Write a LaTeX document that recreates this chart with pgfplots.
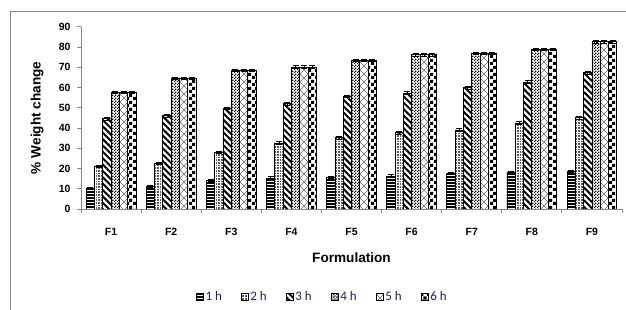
\documentclass[border=0pt]{standalone}
\usepackage{fontspec}
\setmainfont{Liberation Sans}
\newfontfamily\legfont{Carlito}
\usepackage{pgfplots}
\usepackage{pgfplotstable}
\pgfplotsset{compat=1.18}
\usetikzlibrary{patterns,patterns.meta}
\definecolor{axgray}{RGB}{134,134,134}
\definecolor{legtext}{RGB}{30,30,80}

\pgfdeclarepatternformonly{hl}{\pgfpoint{-1pt}{-1pt}}{\pgfpoint{4pt}{4pt}}{\pgfpoint{3pt}{3pt}}%
{\pgfpathrectangle{\pgfpoint{-1pt}{0pt}}{\pgfpoint{5pt}{1.5pt}}\pgfusepath{fill}}
\pgfdeclarepatternformonly{fd}{\pgfpoint{-0.5pt}{-0.5pt}}{\pgfpoint{2pt}{2pt}}{\pgfpoint{1.6pt}{1.6pt}}%
{\pgfpathrectangle{\pgfpointorigin}{\pgfpoint{0.9pt}{0.9pt}}\pgfusepath{fill}}
\pgfdeclarepatternformonly{fc}{\pgfpointorigin}{\pgfpoint{3pt}{3pt}}{\pgfpoint{3pt}{3pt}}%
{\pgfpathrectangle{\pgfpointorigin}{\pgfpoint{1.5pt}{1.5pt}}\pgfpathrectangle{\pgfpoint{1.5pt}{1.5pt}}{\pgfpoint{1.5pt}{1.5pt}}\pgfusepath{fill}}
\pgfdeclarepatternformonly{dcross}{\pgfpoint{-0.5pt}{-0.5pt}}{\pgfpoint{8.5pt}{8.5pt}}{\pgfpoint{8pt}{8pt}}%
{\pgfsetlinewidth{0.5pt}\pgfpathmoveto{\pgfpointorigin}\pgfpathlineto{\pgfpoint{8pt}{8pt}}\pgfpathmoveto{\pgfpoint{0pt}{8pt}}\pgfpathlineto{\pgfpoint{8pt}{0pt}}\pgfusepath{stroke}}
\pgfdeclarepatternformonly{bc}{\pgfpointorigin}{\pgfpoint{7pt}{7pt}}{\pgfpoint{7pt}{7pt}}%
{\pgfpathrectangle{\pgfpointorigin}{\pgfpoint{3.5pt}{3.5pt}}\pgfpathrectangle{\pgfpoint{3.5pt}{3.5pt}}{\pgfpoint{3.5pt}{3.5pt}}\pgfusepath{fill}}

\pgfplotstableread{
x  h1   h2   h3   h4   h5   h6
0  10.2 21.0 44.5 57.6 57.6 57.6
1  11.3 22.5 46.0 64.5 64.5 64.5
2  14.2 28.0 49.7 68.6 68.6 68.6
3  15.3 32.6 52.0 70.1 70.1 70.1
4  15.6 35.2 55.6 73.4 73.4 73.4
5  16.3 37.6 57.3 76.2 76.2 76.2
6  17.6 39.0 59.8 77.0 77.0 77.0
7  18.2 42.5 62.7 78.8 78.8 78.8
8  18.7 45.0 67.2 82.5 82.5 82.5
}\datatable

\pgfplotsset{eb/.style={
   error bars/y dir=both, error bars/y fixed=0.6,
   error bars/error bar style={black, line width=0.6pt},
   error bars/error mark options={rotate=90, mark size=3pt, black, line width=0.6pt}}}

\begin{document}
\begin{tikzpicture}
\useasboundingbox (0,0) rectangle (626pt,310pt);
\draw[axgray, line width=0.8pt] (10pt,0pt) -- (10pt,299pt) -- (626pt,299pt);
\begin{axis}[
  at={(81pt,101pt)}, anchor=south west,
  scale only axis, width=541pt, height=182.3pt,
  xmin=-0.5, xmax=8.5, ymin=0, ymax=90,
  ybar=0pt, bar width=8.3pt,
  axis x line=bottom, axis y line=left,
  axis line style={axgray, line width=0.8pt, -},
  tick align=outside,
  ytick={0,10,...,90},
  xtick={0,...,8},
  xticklabels={F1,F2,F3,F4,F5,F6,F7,F8,F9},
  minor xtick={-0.5,0.5,...,8.5},
  major x tick style={draw=none},
  minor x tick style={axgray, line width=0.8pt},
  y tick style={axgray, line width=0.8pt},
  major tick length=4pt, minor tick length=4pt,
  /pgf/number format/assume math mode=true,
  ticklabel style={font=\bfseries\fontsize{10.5}{12}\selectfont, text=black},
  xticklabel style={anchor=center, yshift=-19pt},
  yticklabel style={xshift=-3pt},
  xlabel={Formulation},
  ylabel={\% Weight change},
  label style={font=\bfseries\fontsize{13.6}{15}\selectfont},
  xlabel style={at={(axis description cs:0.5,-0.269)}, anchor=center},
  ylabel style={at={(axis description cs:-0.0813,0.5)}, anchor=center},
  every axis plot/.append style={draw=black, line width=0.8pt},
  legend style={at={(axis description cs:0.446,-0.483)}, anchor=center, draw=none,
     font=\legfont\fontsize{13}{15}\selectfont\color{legtext},
     /tikz/every even column/.append style={column sep=17pt}},
  legend columns=6,
  legend image code/.code={\draw[#1, line width=0.6pt] (0pt,-3.5pt) rectangle (7pt,3.5pt);},
]
\addplot[pattern=hl, eb] table[x=x,y=h1]{\datatable};
\addplot[pattern=fd, pattern color=gray!70!black, eb] table[x=x,y=h2]{\datatable};
\addplot[pattern={Lines[angle=-45,distance=4.5pt,line width=2pt]}, eb] table[x=x,y=h3]{\datatable};
\addplot[pattern=fc, eb] table[x=x,y=h4]{\datatable};
\addplot[pattern=dcross, pattern color=gray!80!black, eb] table[x=x,y=h5]{\datatable};
\addplot[pattern=bc, eb] table[x=x,y=h6]{\datatable};
\legend{1 h,2 h,3 h,4 h,5 h,6 h}
\end{axis}
\end{tikzpicture}
\end{document}
